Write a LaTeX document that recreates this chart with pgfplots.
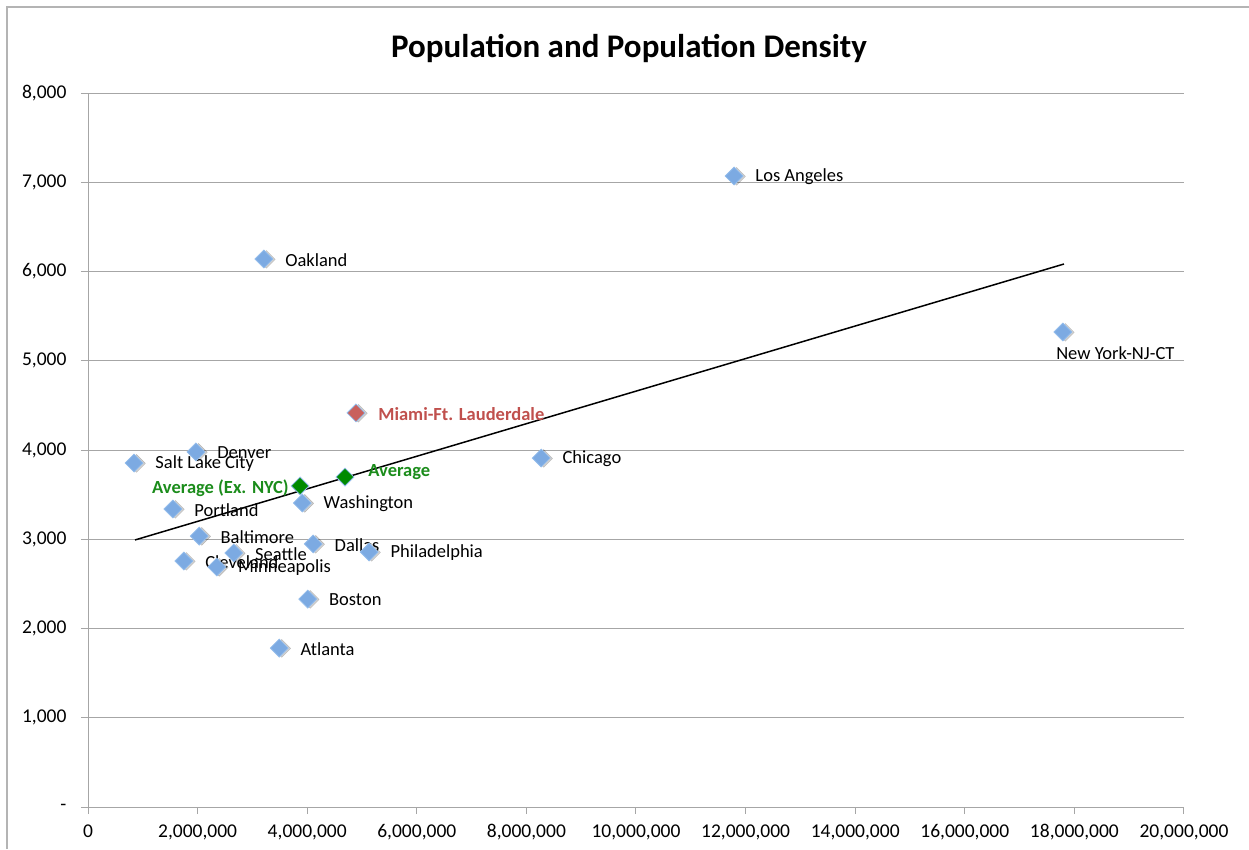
\documentclass[border=0pt]{standalone}
\usepackage{pgfplots}
\usepackage{pgfplotstable}
\pgfplotsset{compat=1.18}
\usepackage{fontspec}
\setmainfont{Carlito}
\definecolor{axisgray}{HTML}{A6A6A6}
\definecolor{framegray}{HTML}{B4B4B4}
\definecolor{ptfill}{HTML}{7CAAE2}
\definecolor{ptedge}{HTML}{93BCEB}
\definecolor{miamired}{HTML}{C9605C}
\definecolor{labred}{HTML}{C0504D}
\definecolor{avggreen}{HTML}{008A00}
\definecolor{labgreen}{HTML}{1B8C1B}

\pgfplotstableread[col sep=comma]{
pop,dens,name
840000,3854,Salt Lake City
1550000,3339,Portland
1750000,2756,Cleveland
1970000,3978,Denver
2030000,3036,Baltimore
2350000,2689,Minneapolis
2660000,2846,Seattle
3210000,6140,Oakland
3490000,1781,Atlanta
3910000,3406,Washington
4010000,2330,Boston
4110000,2947,Dallas
5130000,2857,Philadelphia
8270000,3910,Chicago
11790000,7070,Los Angeles
}\cities

\pgfplotstableread[col sep=comma]{
pop,dens,name
17790000,5322,New York-NJ-CT
}\nyc

\pgfplotstableread[col sep=comma]{
pop,dens,name
4890000,4415,Miami-Ft. Lauderdale
}\miami

\pgfplotstableread[col sep=comma]{
pop,dens,name
4690000,3697,Average
}\avg

\pgfplotstableread[col sep=comma]{
pop,dens,name
3870000,3597,Average (Ex. NYC)
}\avgex

\pgfplotstableread[col sep=comma]{
pop,dens
858000,2992
17810000,6084
}\trend

\begin{document}
\begin{tikzpicture}[x=1pt,y=1pt]
\useasboundingbox (0,0) rectangle (1249,849);
\draw[framegray, line width=1.2pt] (7,0) -- (7,842) -- (1249,842);
\node[font=\bfseries\fontsize{33}{38}\selectfont] at (629,800) {Population and Population Density};
\begin{axis}[
  at={(88pt,42pt)}, anchor=south west, scale only axis,
  width=1096pt, height=714pt,
  xmin=0, xmax=20000000, ymin=0, ymax=8000,
  clip=false,
  axis x line=bottom, axis y line=left,
  axis line style={-, draw=axisgray, line width=1pt},
  tick align=outside, major tick length=7pt,
  tick style={axisgray, line width=1pt},
  ymajorgrids, grid style={axisgray, line width=1pt},
  scaled x ticks=false, scaled y ticks=false,
  xtick={0,2000000,4000000,6000000,8000000,10000000,12000000,14000000,16000000,18000000,20000000},
  xticklabels={0,{2,000,000},{4,000,000},{6,000,000},{8,000,000},{10,000,000},{12,000,000},{14,000,000},{16,000,000},{18,000,000},{20,000,000}},
  ytick={0,1000,2000,3000,4000,5000,6000,7000,8000},
  yticklabels={-,{1,000},{2,000},{3,000},{4,000},{5,000},{6,000},{7,000},{8,000}},
  ticklabel style={font=\fontsize{19.5}{22}\selectfont, text=black},
  /pgf/number format/assume math mode=true,
  xticklabel style={yshift=-7pt},
  yticklabel style={xshift=-11pt},
]
% trend line
\addplot[black, line width=1.5pt] table[x=pop, y=dens] {\trend};
% shadows
\addplot[only marks, mark=square*, mark size=6.3pt, mark options={rotate=45, xshift=1.5pt, yshift=-2pt, fill=black, draw=none, opacity=0.18}] table[x=pop, y=dens] {\cities};
\addplot[only marks, mark=square*, mark size=6.3pt, mark options={rotate=45, xshift=1.5pt, yshift=-2pt, fill=black, draw=none, opacity=0.18}] table[x=pop, y=dens] {\nyc};
\addplot[only marks, mark=square*, mark size=6.3pt, mark options={rotate=45, xshift=1.5pt, yshift=-2pt, fill=black, draw=none, opacity=0.18}] table[x=pop, y=dens] {\miami};
% cities
\addplot[only marks, mark=square*, mark size=6.3pt,
  mark options={rotate=45, fill=ptfill, draw=ptedge, line width=0.8pt},
  point meta=explicit symbolic, nodes near coords,
  nodes near coords style={anchor=west, xshift=21pt, yshift=-1pt, inner sep=0pt, font=\fontsize{18.5}{21}\selectfont, text=black}]
  table[x=pop, y=dens, meta=name] {\cities};
\addplot[only marks, mark=square*, mark size=6.3pt,
  mark options={rotate=45, fill=ptfill, draw=ptedge, line width=0.8pt},
  point meta=explicit symbolic, nodes near coords,
  nodes near coords style={anchor=north west, xshift=-7pt, yshift=-14pt, inner sep=0pt, font=\fontsize{18.5}{21}\selectfont, text=black}]
  table[x=pop, y=dens, meta=name] {\nyc};
\addplot[only marks, mark=square*, mark size=6.3pt,
  mark options={rotate=45, fill=miamired, draw=ptedge, line width=0.8pt},
  point meta=explicit symbolic, nodes near coords,
  nodes near coords style={anchor=west, xshift=22pt, yshift=-1pt, inner sep=0pt, font=\bfseries\fontsize{18.5}{21}\selectfont, text=labred}]
  table[x=pop, y=dens, meta=name] {\miami};
\addplot[only marks, mark=square*, mark size=6.3pt,
  mark options={rotate=45, fill=avggreen, draw=ptedge, line width=0.8pt},
  point meta=explicit symbolic, nodes near coords,
  nodes near coords style={anchor=west, xshift=23pt, yshift=5pt, inner sep=0pt, font=\bfseries\fontsize{18.5}{21}\selectfont, text=labgreen}]
  table[x=pop, y=dens, meta=name] {\avg};
\addplot[only marks, mark=square*, mark size=6.3pt,
  mark options={rotate=45, fill=avggreen, draw=ptedge, line width=0.8pt},
  point meta=explicit symbolic, nodes near coords,
  nodes near coords style={anchor=east, xshift=-11pt, yshift=-2pt, inner sep=0pt, font=\bfseries\fontsize{18.5}{21}\selectfont, text=labgreen}]
  table[x=pop, y=dens, meta=name] {\avgex};
\end{axis}
\end{tikzpicture}
\end{document}
